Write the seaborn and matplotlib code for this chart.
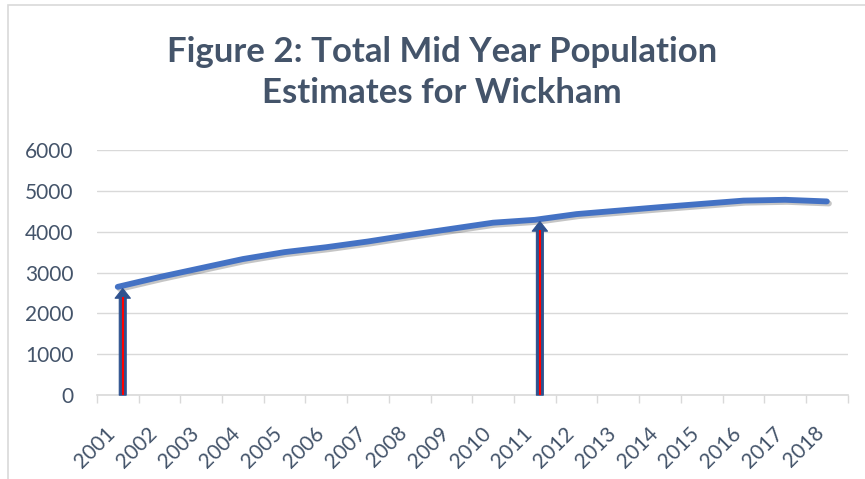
import numpy as np
import pandas as pd
import matplotlib
matplotlib.use("Agg")
import matplotlib.pyplot as plt
import matplotlib.patheffects as pe
import matplotlib.transforms as mtransforms
from matplotlib.patches import Rectangle
import seaborn as sns

# data
years = [str(y) for y in range(2001, 2019)]
population = [2650, 2890, 3110, 3330, 3500, 3620, 3760, 3920, 4070, 4220,
              4290, 4430, 4515, 4600, 4680, 4760, 4780, 4740]
arrow_years = ["2001", "2011"]
y_ticks = [0, 1000, 2000, 3000, 4000, 5000, 6000]

title = "Figure 2: Total Mid Year Population\nEstimates for Wickham"

text_col = "#44546A"
grid_col = "#D9D9D9"
line_col = "#4472C4"

sns.set_theme(style="white")
plt.rcParams["font.family"] = ["Lato", "DejaVu Sans"]

df = pd.DataFrame({"idx": np.arange(len(years)), "year": years, "pop": population})

fig = plt.figure(figsize=(8.65, 4.79), dpi=100)
ax = fig.add_axes([0.112, 0.175, 0.868, 0.512])

sns.lineplot(data=df, x="idx", y="pop", ax=ax, color=line_col, linewidth=4.2,
             solid_capstyle="round", solid_joinstyle="round", zorder=3,
             path_effects=[pe.SimpleLineShadow(offset=(1.5, -1.5), alpha=0.25),
                           pe.Normal()])

# arrows from zero up to the line
for yr in arrow_years:
    i = years.index(yr)
    xv = i + 0.12
    top = population[i] - 40
    ax.annotate("", xy=(xv, top), xytext=(xv, 0),
                arrowprops=dict(width=5, headwidth=11, headlength=7,
                                facecolor="#2F528F", edgecolor="#2F528F",
                                lw=0.8, shrink=0),
                zorder=4)
    ax.plot([xv, xv], [0, top - 200], color="#FF0000", lw=1.5, zorder=5,
            solid_capstyle="butt")

ax.set_xlim(-0.5, len(years) - 0.5)
ax.set_ylim(0, 6000)
ax.set_yticks(y_ticks)
ax.set_yticklabels([str(v) for v in y_ticks])
ax.set_xticks(df["idx"])
ax.set_xticklabels(years, rotation=45, ha="right", rotation_mode="anchor")
ax.set_xticks(np.arange(-0.5, len(years), 1), minor=True)

ax.tick_params(axis="x", which="major", length=0, pad=20, labelsize=15, labelcolor=text_col)
ax.tick_params(axis="x", which="minor", length=6, width=1, color=grid_col, bottom=True)
ax.tick_params(axis="y", length=0, pad=17, labelsize=15, labelcolor=text_col)

# nudge the rotated year labels a bit to the left
shift = mtransforms.ScaledTranslation(-9 / 72, 0, fig.dpi_scale_trans)
for lab in ax.get_xticklabels():
    lab.set_transform(lab.get_transform() + shift)

ax.grid(axis="y", color=grid_col, linewidth=1)
ax.set_axisbelow(True)
for side in ["top", "right", "left"]:
    ax.spines[side].set_visible(False)
ax.spines["bottom"].set_color(grid_col)
ax.spines["bottom"].set_linewidth(1.2)
ax.set_xlabel("")
ax.set_ylabel("")

fig.text(0.511, 0.848, title, ha="center", va="center", fontsize=25,
         fontweight="bold", color=text_col, linespacing=1.35)

# chart frame
fig.add_artist(Rectangle((0.009, -0.1), 1.2, 1.089, transform=fig.transFigure,
                         fill=False, edgecolor=grid_col, linewidth=1.2))

fig.savefig("out.png", dpi=100)
